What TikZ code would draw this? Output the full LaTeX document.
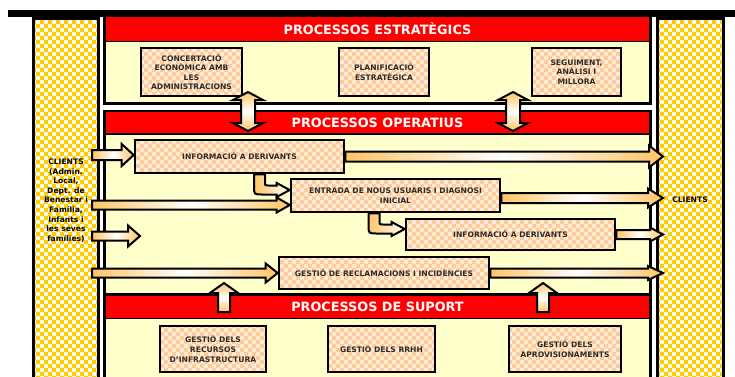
\documentclass[tikz,border=0pt]{standalone}
\usepackage{fontspec}
\setmainfont{DejaVu Sans}
\usepackage{xcolor}
\usetikzlibrary{patterns,calc}

\definecolor{procred}{HTML}{FF0000}
\definecolor{cream}{HTML}{FFFFCC}
\definecolor{checkyellow}{HTML}{FFCC00}
\definecolor{peach}{HTML}{FFCC99}
\definecolor{peachlight}{HTML}{FFF0DE}
\definecolor{arrorange}{HTML}{FFC466}
\definecolor{boxtext}{HTML}{2B2B2B}

% small checkerboard (2pt squares)
\pgfdeclarepatternformonly{smallcheck}{\pgfqpoint{-.1pt}{-.1pt}}{\pgfqpoint{4.1pt}{4.1pt}}{\pgfqpoint{4pt}{4pt}}%
{
  \pgfpathrectangle{\pgfqpoint{0pt}{0pt}}{\pgfqpoint{2.05pt}{2.05pt}}
  \pgfpathrectangle{\pgfqpoint{2pt}{2pt}}{\pgfqpoint{2.05pt}{2.05pt}}
  \pgfusepath{fill}
}

% horizontal block arrow: from, to, shaft half, head half, head length
\newcommand{\harrow}[5]{%
  \path[arrbody] let \p1=(#1), \p2=(#2) in
    (\x1,\y1+#3) -- (\x2-#5,\y1+#3) -- (\x2-#5,\y1+#4) -- (\x2,\y1)
    -- (\x2-#5,\y1-#4) -- (\x2-#5,\y1-#3) -- (\x1,\y1-#3) -- cycle;}
% vertical double arrow: top, bottom, shaft half, head half, head length
\newcommand{\darrow}[5]{%
  \path[varrbody] let \p1=(#1), \p2=(#2) in
    (\x1,\y1) -- (\x1+#4,\y1-#5) -- (\x1+#3,\y1-#5) -- (\x1+#3,\y2+#5)
    -- (\x1+#4,\y2+#5) -- (\x1,\y2) -- (\x1-#4,\y2+#5) -- (\x1-#3,\y2+#5)
    -- (\x1-#3,\y1-#5) -- (\x1-#4,\y1-#5) -- cycle;}
% upward block arrow: bottom, top, shaft half, head half, head length
\newcommand{\uarrow}[5]{%
  \path[varrbody] let \p1=(#1), \p2=(#2) in
    (\x1-#3,\y1) -- (\x1-#3,\y2-#5) -- (\x1-#4,\y2-#5) -- (\x1,\y2)
    -- (\x1+#4,\y2-#5) -- (\x1+#3,\y2-#5) -- (\x1+#3,\y1) -- cycle;}
% bent arrow: down from a box, then right into the next one
\newcommand{\elbow}[2]{%
  \path[elbowbody] let \p1=(#1), \p2=(#2) in
    (\x1-2.75pt,\y1) -- (\x1-2.75pt,\y2+2pt)
    .. controls (\x1-2.75pt,\y2-2.25pt) .. (\x1+1.5pt,\y2-2.25pt)
    -- (\x2-6.5pt,\y2-2.25pt) -- (\x2-6.5pt,\y2-3.5pt) -- (\x2,\y2)
    -- (\x2-6.5pt,\y2+3.5pt) -- (\x2-6.5pt,\y2+2.25pt)
    -- (\x1+4.5pt,\y2+2.25pt)
    .. controls (\x1+2.75pt,\y2+2.25pt) .. (\x1+2.75pt,\y2+4pt)
    -- (\x1+2.75pt,\y1) -- cycle;}

\begin{document}
\begin{tikzpicture}[x=0.5pt, y=-0.5pt,
  panel/.style={draw, line width=1.5pt, fill=cream},
  header/.style={draw, line width=0.8pt, fill=procred, text=white,
    minimum width=272pt, minimum height=10.5pt,
    font=\bfseries\fontsize{6.4}{7.5}\selectfont},
  procbox/.style={draw, line width=1.3pt, preaction={fill=peachlight},
    pattern=smallcheck, pattern color=peach, align=center, text=boxtext,
    inner sep=1pt, font=\bfseries\fontsize{3.8}{4.8}\selectfont},
  clientcol/.style={draw, line width=1.5pt, preaction={fill=white},
    pattern=smallcheck, pattern color=checkyellow},
  clienttext/.style={align=center, font=\bfseries\fontsize{3.8}{4.8}\selectfont},
  arrbody/.style={draw, line width=1pt, left color=arrorange,
    right color=arrorange, middle color=white},
  varrbody/.style={draw, line width=1pt, top color=arrorange,
    bottom color=arrorange, middle color=white},
  elbowbody/.style={draw, line width=1pt, left color=arrorange, right color=white}]

  \useasboundingbox (0,0) rectangle (735,376);

  % Client columns
  \draw[clientcol] (33.5,18) rectangle (98.5,390);
  \draw[clientcol] (657,18) rectangle (723,390);
  \fill (8,10) rectangle (735,16.5);

  % Panels
  \draw[panel] (104.5,18.5) rectangle (650.5,103.5);
  \draw[panel] (104.5,111.5) rectangle (650.5,294.5);
  \draw[panel] (104.5,295.5) rectangle (650.5,390);
  \node[header] (hestr) at (377.5,29) {PROCESSOS ESTRATÈGICS};
  \node[header] (hoper) at (377.5,122.5) {PROCESSOS OPERATIUS};
  \node[header] (hsup) at (377.5,307) {PROCESSOS DE SUPORT};

  % Strategic processes
  \node[procbox, minimum width=50.5pt, minimum height=24pt] (conc) at (191.5,72)
    {CONCERTACIÓ\\ECONÒMICA AMB\\LES\\ADMINISTRACIONS};
  \node[procbox, minimum width=45pt, minimum height=24pt] (plan) at (384,72)
    {PLANIFICACIÓ\\ESTRATÈGICA};
  \node[procbox, minimum width=44.5pt, minimum height=24pt] (seg) at (576.5,72)
    {SEGUIMENT,\\ANÀLISI I\\MILLORA};

  % Operative processes
  \node[procbox, minimum width=104.5pt, minimum height=16.5pt] (inf1) at (239.5,156.5)
    {INFORMACIÓ A DERIVANTS};
  \node[procbox, minimum width=104.5pt, minimum height=16.5pt] (entr) at (395.5,195.5)
    {ENTRADA DE NOUS USUARIS I DIAGNOSI\\INICIAL};
  \node[procbox, minimum width=104.5pt, minimum height=15.5pt] (inf2) at (510.5,234.5)
    {INFORMACIÓ A DERIVANTS};
  \node[procbox, minimum width=105pt, minimum height=16pt] (gest) at (384,273)
    {GESTIÓ DE RECLAMACIONS I INCIDÈNCIES};

  % Support processes
  \node[procbox, minimum width=53pt, minimum height=23pt] (rec) at (213,349)
    {GESTIÓ DELS\\RECURSOS\\D’INFRASTRUCTURA};
  \node[procbox, minimum width=53.5pt, minimum height=23pt] (rrhh) at (381.5,349)
    {GESTIÓ DELS RRHH};
  \node[procbox, minimum width=56pt, minimum height=23pt] (apro) at (565,349)
    {GESTIÓ DELS\\APROVISIONAMENTS};

  % Clients
  \node[clienttext] (clientsL) at (66,200.5)
    {CLIENTS\\(Admin.\\Local,\\Dept. de\\Benestar i\\Família,\\Infants i\\les seves\\famílies)};
  \node[clienttext] (clientsR) at (690,200) {CLIENTS};

  % Free ends of the arrows
  \coordinate (in1) at (92,155);
  \coordinate (in2) at (92,205);
  \coordinate (in3) at (92,236);
  \coordinate (in3e) at (140,236);
  \coordinate (in4) at (92,273);
  \coordinate (out1) at (663,155);
  \coordinate (out2) at (663,198);
  \coordinate (out3) at (663,234.5);
  \coordinate (out4) at (663,273);
  \coordinate (d1t) at (248,92);
  \coordinate (d1b) at (248,131);
  \coordinate (d2t) at (513,92);
  \coordinate (d2b) at (513,131);
  \coordinate (u1b) at (224,312);
  \coordinate (u1t) at (224,283);
  \coordinate (u2b) at (543,312);
  \coordinate (u2t) at (543,283);

  % Arrows
  \harrow{in1}{inf1.west}{2.5pt}{5.5pt}{6pt}
  \harrow{inf1.east}{out1}{2.5pt}{5.5pt}{7pt}
  \harrow{in2}{entr.west}{2.25pt}{3.75pt}{6.5pt}
  \harrow{[yshift=-1.25pt]entr.east}{out2}{2.5pt}{4.75pt}{7.5pt}
  \harrow{inf2.east}{out3}{2.25pt}{3.5pt}{6.5pt}
  \harrow{in3}{in3e}{2.25pt}{5.25pt}{6pt}
  \harrow{in4}{gest.west}{2.25pt}{4.75pt}{6pt}
  \harrow{gest.east}{out4}{2.25pt}{3.5pt}{7.5pt}
  \elbow{[xshift=10pt]inf1.south}{[yshift=2.75pt]entr.west}
  \elbow{[xshift=-10.75pt]entr.south}{[yshift=2.75pt]inf2.west}
  \darrow{d1t}{d1b}{3.5pt}{7.5pt}{4pt}
  \darrow{d2t}{d2b}{3.5pt}{7.5pt}{4pt}
  \uarrow{u1b}{u1t}{3pt}{7pt}{5pt}
  \uarrow{u2b}{u2t}{3pt}{7pt}{5pt}
\end{tikzpicture}
\end{document}
